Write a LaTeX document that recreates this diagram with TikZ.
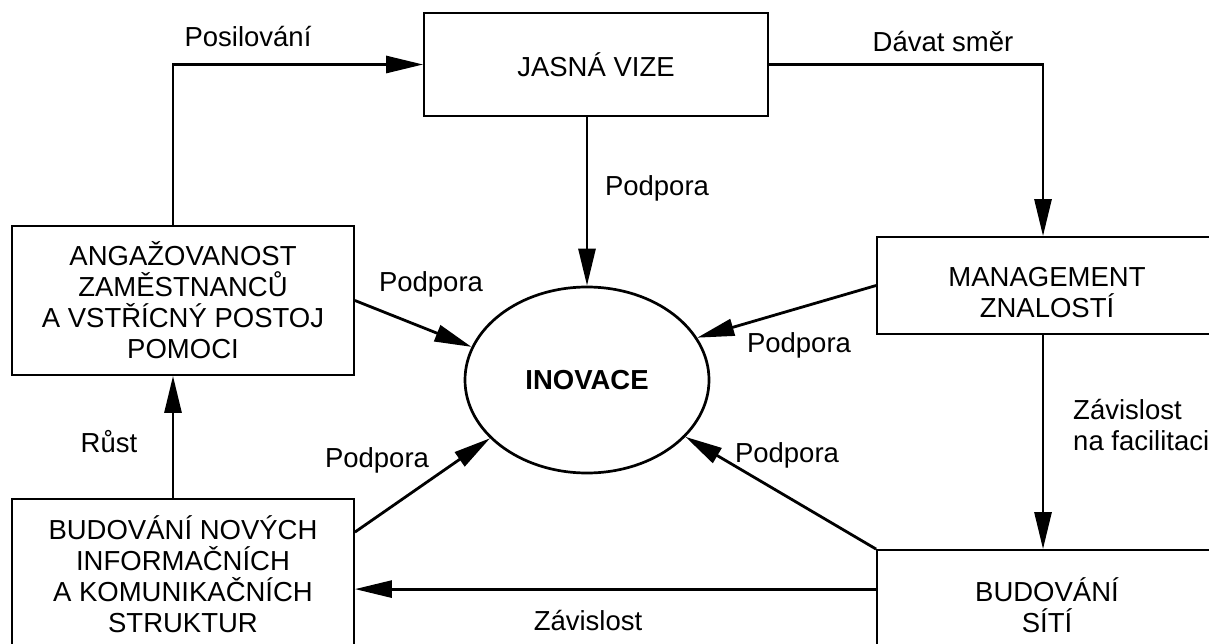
\documentclass[tikz,border=0pt]{standalone}
\usepackage{fontspec}
\setmainfont{Liberation Sans}
\usetikzlibrary{arrows.meta,calc,shapes.geometric}
\begin{document}
\begin{tikzpicture}[x=1pt,y=-1pt,
  every node/.style={font=\fontsize{27.5}{31}\selectfont},
  box/.style={draw, line width=1.8pt, align=center, inner sep=0pt},
  wire/.style={line width=2.8pt},
  arr/.style={wire, -{Triangle[length=37pt,width=17pt]}},
  lbl/.style={anchor=base, inner sep=0pt}]
\useasboundingbox (0,0) rectangle (1209,644);
\clip (0,0) rectangle (1209,644);
\fill[white] (0,0) rectangle (1209,644);

% boxes (the right-hand and bottom ones run past the frame)
\node[box, minimum width=344pt, minimum height=103pt] (vize) at (596,64.5) {JASNÁ VIZE};
\node[box, minimum width=342pt, minimum height=149pt] (angaz) at (183,300.5)
  {ANGAŽOVANOST\\ZAMĚSTNANCŮ\\A VSTŘÍCNÝ POSTOJ\\POMOCI};
\node[box, minimum width=340pt, minimum height=97pt] (mgmt) at (1047,285.5)
  {\rule{0pt}{33pt}MANAGEMENT\\ZNALOSTÍ};
\node[box, minimum width=342pt, minimum height=150pt] (budinf) at (183,574)
  {BUDOVÁNÍ NOVÝCH\\INFORMAČNÍCH\\A KOMUNIKAČNÍCH\\STRUKTUR};
\node[box, minimum width=340pt, minimum height=110pt] (budsit) at (1047,605)
  {BUDOVÁNÍ\\SÍTÍ};

% central ellipse
\node[draw, ellipse, line width=2.7pt, minimum width=244pt, minimum height=186pt,
  inner sep=0pt, font=\fontsize{27.5}{31}\selectfont\bfseries] (inov) at (587,380) {INOVACE};

% connectors between the boxes
\draw[arr] ([xshift=-10pt]angaz.north) |- (vize.west);
\draw[arr] (vize.east) -| ([xshift=-4pt]mgmt.north);
\draw[arr] ([xshift=-4pt]mgmt.south) -- ([xshift=-4pt]budsit.north);
\coordinate (zs) at ($(budsit.north west)+(0,40)$);
\draw[arr] (zs) -- (zs -| budinf.east);
\draw[arr] ([xshift=-10pt]budinf.north) -- ([xshift=-10pt]angaz.south);

% support arrows into the ellipse
\draw[arr] (vize.south -| inov.north) -- (inov.north);
\draw[arr] (angaz.east) -- (inov.164);
\coordinate (bi) at ($(budinf.north east)+(0,34)$);
\draw[arr] (bi) -- (inov.211);
\draw[arr] (mgmt.west) -- (inov.21);
\draw[arr] (budsit.north west) -- (inov.330);

% labels
\node[lbl] (lposil) at (248,47) {Posilování};
\node[lbl] (ldavat) at (943,52) {Dávat směr};
\node[lbl] (lpod1) at (657,196) {Podpora};
\node[lbl] (lpod2) at (431,291) {Podpora};
\node[lbl] (lpod3) at (799,352) {Podpora};
\node[lbl] (lpod4) at (377,467) {Podpora};
\node[lbl] (lpod5) at (787,462) {Podpora};
\node[lbl] (lrust) at (109,452) {Růst};
\node[lbl, anchor=base west] (lzav1) at (1073,419) {Závislost};
\node[lbl, anchor=base west] (lzav2) at (1073,450) {na facilitaci};
\node[lbl] (lzav3) at (588,630) {Závislost};
\end{tikzpicture}
\end{document}
